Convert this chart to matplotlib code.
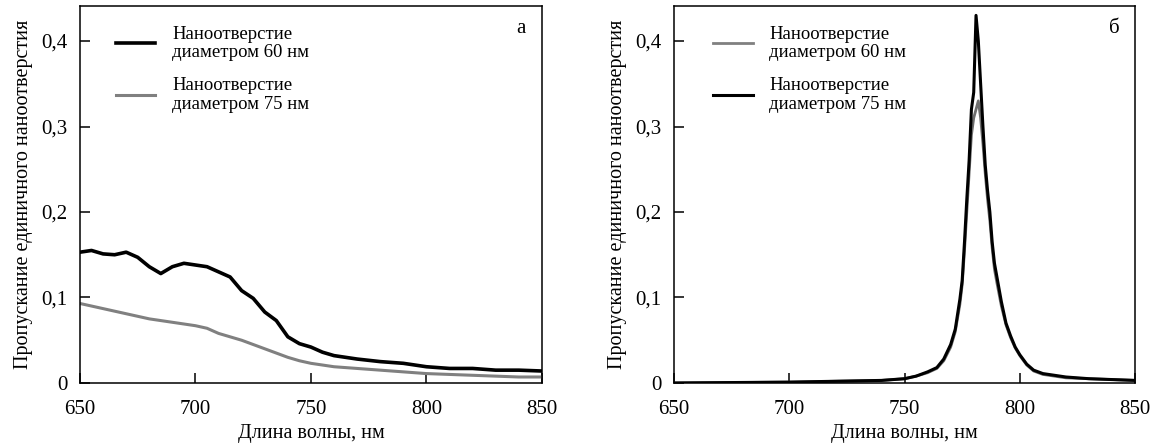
import matplotlib
matplotlib.use('Agg')
import matplotlib.pyplot as plt

plt.rcParams['font.family'] = ['Liberation Serif', 'DejaVu Serif']

# panel a: values
wl_a = [650, 655, 660, 665, 670, 675, 680, 685, 690, 695, 700, 705, 710, 715,
        720, 725, 730, 735, 740, 745, 750, 755, 760, 770, 780, 790, 800, 810,
        820, 830, 840, 850]
a_60 = [0.153, 0.155, 0.151, 0.150, 0.153, 0.147, 0.136, 0.128, 0.136, 0.140,
        0.138, 0.136, 0.130, 0.124, 0.108, 0.099, 0.083, 0.073, 0.054, 0.046,
        0.042, 0.036, 0.032, 0.028, 0.025, 0.023, 0.019, 0.017, 0.017, 0.015,
        0.015, 0.014]
a_75 = [0.093, 0.090, 0.087, 0.084, 0.081, 0.078, 0.075, 0.073, 0.071, 0.069,
        0.067, 0.064, 0.058, 0.054, 0.050, 0.045, 0.040, 0.035, 0.030, 0.026,
        0.023, 0.021, 0.019, 0.017, 0.015, 0.013, 0.011, 0.010, 0.009, 0.008,
        0.007, 0.007]

# panel b
wl_b = [650, 700, 720, 740, 750, 755, 760, 764, 767, 770, 772, 774, 775, 776,
        777, 778, 779, 780, 781, 782, 783, 784, 785, 786, 787, 788, 789, 790,
        792, 794, 796, 798, 800, 803, 806, 810, 815, 820, 830, 840, 850]
b_75 = [0.0, 0.001, 0.002, 0.003, 0.005, 0.008, 0.013, 0.018, 0.028, 0.045,
        0.063, 0.098, 0.12, 0.165, 0.215, 0.26, 0.32, 0.34, 0.43, 0.40, 0.35,
        0.30, 0.255, 0.225, 0.20, 0.165, 0.14, 0.125, 0.095, 0.07, 0.055,
        0.042, 0.033, 0.022, 0.015, 0.011, 0.009, 0.007, 0.005, 0.004, 0.003]
b_60 = [0.0, 0.001, 0.002, 0.003, 0.005, 0.008, 0.012, 0.017, 0.026, 0.042,
        0.060, 0.092, 0.115, 0.155, 0.20, 0.245, 0.29, 0.31, 0.32, 0.33, 0.31,
        0.28, 0.245, 0.215, 0.19, 0.158, 0.133, 0.118, 0.09, 0.068, 0.053,
        0.041, 0.032, 0.021, 0.014, 0.010, 0.008, 0.006, 0.005, 0.004, 0.003]

label_60 = 'Наноотверстие\nдиаметром 60 нм'
label_75 = 'Наноотверстие\nдиаметром 75 нм'
xticks = [650, 700, 750, 800, 850]
yticks = [0, 0.1, 0.2, 0.3, 0.4]
yticklabels = ['0', '0,1', '0,2', '0,3', '0,4']
grey = '#808080'

fig = plt.figure(figsize=(11.54, 4.46), dpi=100)
ax1 = fig.add_axes([0.0693, 0.1413, 0.4003, 0.8453])
ax2 = fig.add_axes([0.5841, 0.1413, 0.3995, 0.8453])

ax1.plot(wl_a, a_75, color=grey, lw=2.2, label=label_75)
ax1.plot(wl_a, a_60, color='black', lw=2.6, label=label_60)
h, l = ax1.get_legend_handles_labels()
leg1 = ax1.legend(h[::-1], l[::-1], loc='upper left', bbox_to_anchor=(0.078, 0.948),
                  frameon=False, fontsize=13.5, handlelength=2.1, handletextpad=0.9,
                  labelspacing=0.85, borderpad=0, borderaxespad=0)

ax2.plot(wl_b, b_60, color='#6e6e6e', lw=2.0, label=label_60)
ax2.plot(wl_b, b_75, color='black', lw=2.2, label=label_75)
leg2 = ax2.legend(loc='upper left', bbox_to_anchor=(0.085, 0.948),
                  frameon=False, fontsize=13.5, handlelength=2.1, handletextpad=0.9,
                  labelspacing=0.85, borderpad=0, borderaxespad=0)
leg2.get_lines()[0].set_color(grey)

for leg in (leg1, leg2):
    for t in leg.get_texts():
        t.set_linespacing(1.12)

for ax, letter in [(ax1, 'а'), (ax2, 'б')]:
    ax.set_xlim(650, 850)
    ax.set_ylim(0, 0.441)
    ax.set_xticks(xticks)
    ax.set_yticks(yticks)
    ax.set_yticklabels(yticklabels)
    ax.tick_params(direction='in', length=7, width=1.1, labelsize=15,
                   top=False, right=False)
    ax.tick_params(axis='x', pad=12)
    ax.tick_params(axis='y', pad=9)
    for s in ax.spines.values():
        s.set_linewidth(1.1)
    ax.set_xlabel('Длина волны, нм', fontsize=14.5, labelpad=4)
    ax.set_ylabel('Пропускание единичного наноотверстия', fontsize=14.5, labelpad=6)
    ax.text(0.955, 0.94, letter, transform=ax.transAxes, fontsize=15,
            ha='center', va='center')

fig.savefig('out.png', dpi=100)
